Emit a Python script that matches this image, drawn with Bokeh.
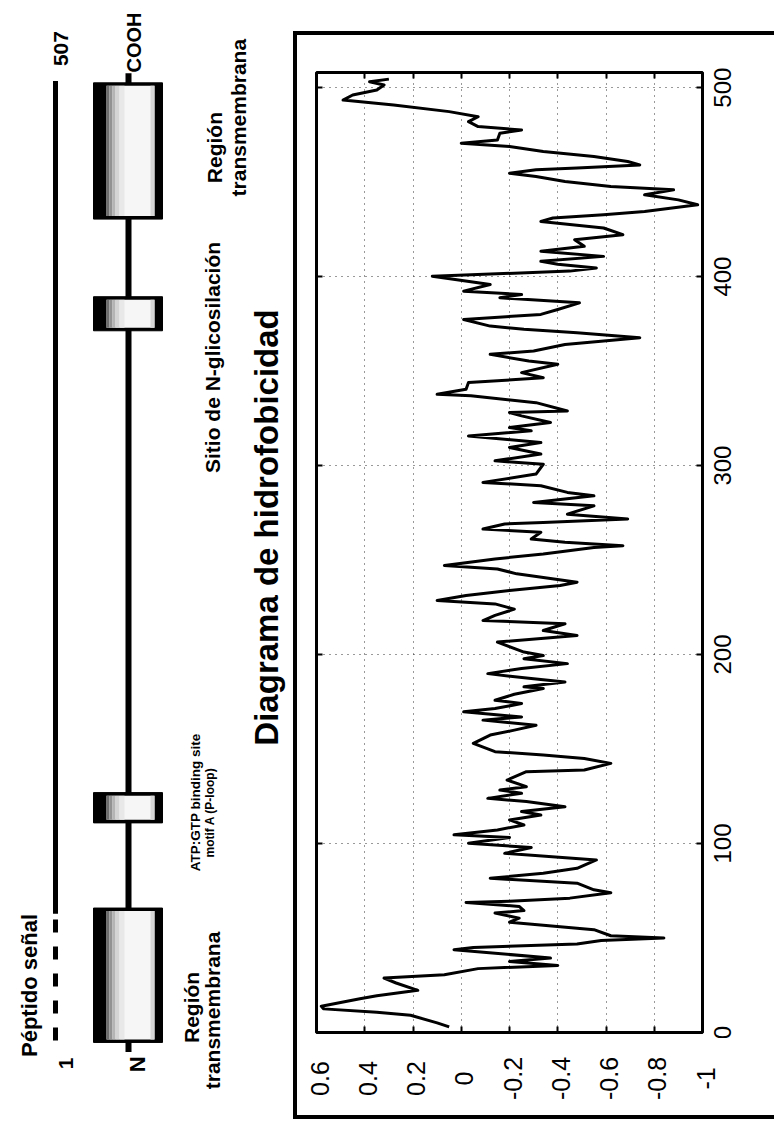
from math import pi
from bokeh.plotting import figure
from bokeh.models import Range1d, LinearAxis, FixedTicker, Label, Grid, Div, Spacer
from bokeh.layouts import row, column
from bokeh.embed import file_html
from bokeh.resources import INLINE
from bokeh.core.properties import value

# ---------------- data ----------------
residue = [3, 5.1, 9.1, 10.7, 12.5, 13.9, 17.9, 19.5, 22.3, 26.2, 28.8, 30.6, 33.8, 35.5, 37.6, 39.4,
           43.8, 45.0, 46.8, 48.7, 50.0, 51.2, 54.4, 58.4, 60.5, 63.2, 64.5, 66.7, 68.8, 69.5, 71.1,
           74.0, 75.5, 79.0, 81.6, 84.3, 86.9, 91.3, 94.8, 97.9, 100.2, 103.2, 104.6, 107.2, 109.8,
           112.5, 115.1, 116.9, 119.5, 122.2, 123.9, 126.6, 128.3, 130.1, 133.6, 138.0, 138.9, 142.4,
           145.0, 146.8, 148.6, 153.0, 157.4, 160.0, 162.6, 165.3, 167.0, 169.7, 171.4, 174.1, 175.8,
           179.0, 182.0, 182.9, 185.5, 187.3, 189.9, 192.6, 195.2, 197.8, 199.5, 201.3, 206.6, 210.1,
           212.7, 216.3, 218.0, 220.7, 224.0, 226.8, 228.6, 231.2, 233.9, 236.5, 238.3, 242.7, 245.3,
           247.1, 250.6, 253.2, 256.7, 257.6, 259.4, 261.1, 264.7, 266.4, 269.1, 269.9, 271.7, 274.3,
           278.7, 280.5, 284.0, 285.8, 289.3, 291.1, 295.5, 300.7, 302.5, 306.1, 309.6, 312.2, 315.7,
           318.4, 320.1, 322.8, 326.3, 328.1, 328.9, 333.3, 336.9, 337.7, 340.4, 343.9, 346.5, 349.2,
           353.6, 355.3, 358.9, 360.6, 364.1, 367.7, 370.3, 372.1, 373.8, 377.3, 380.0, 382.6, 386.1,
           388.8, 390.5, 392.3, 395.8, 400.2, 402.9, 404.6, 406.5, 408.1, 410.7, 413.4, 416.0, 419.5,
           422.2, 425.7, 429.2, 431.0, 432.7, 434.5, 438.0, 440.6, 443.3, 445.9, 447.7, 450.3, 453.0,
           454.7, 456.5, 457.4, 459.1, 460.9, 463.5, 466.2, 468.8, 470.6, 472.3, 475.8, 477.6, 479.4,
           482.0, 484.6, 487.3, 490.8, 493.4, 496.1, 498.7, 501.4, 503.1, 504.5]
hydro = [0.05, 0.10, 0.21, 0.35, 0.57, 0.58, 0.42, 0.35, 0.18, 0.27, 0.32, 0.07, -0.07, -0.40, -0.20, -0.37,
         0.03, -0.05, -0.48, -0.58, -0.84, -0.62, -0.55, -0.20, -0.24, -0.14, -0.26, -0.24, -0.02, -0.20, -0.45,
         -0.62, -0.55, -0.48, -0.12, -0.34, -0.48, -0.56, -0.18, -0.29, -0.03, -0.20, 0.03, -0.15, -0.26,
         -0.20, -0.33, -0.25, -0.43, -0.27, -0.11, -0.25, -0.16, -0.27, -0.19, -0.27, -0.51, -0.62,
         -0.51, -0.34, -0.14, -0.05, -0.12, -0.22, -0.31, -0.09, -0.25, -0.01, -0.14, -0.25, -0.14,
         -0.22, -0.34, -0.26, -0.43, -0.29, -0.11, -0.25, -0.44, -0.26, -0.34, -0.26, -0.15, -0.48,
         -0.34, -0.43, -0.09, -0.14, -0.22, -0.14, 0.10, -0.02, -0.20, -0.41, -0.48, -0.23, -0.15,
         0.07, -0.14, -0.34, -0.55, -0.67, -0.43, -0.29, -0.33, -0.09, -0.18, -0.34, -0.69, -0.44,
         -0.55, -0.30, -0.55, -0.44, -0.33, -0.09, -0.31, -0.34, -0.14, -0.33, -0.20, -0.33, -0.03,
         -0.29, -0.20, -0.37, -0.25, -0.20, -0.44, -0.31, -0.04, 0.10, -0.02, -0.03, -0.34, -0.25,
         -0.40, -0.28, -0.12, -0.30, -0.43, -0.74, -0.48, -0.26, -0.12, -0.01, -0.33, -0.40, -0.49,
         -0.16, -0.25, -0.01, -0.12, 0.12, -0.45, -0.56, -0.40, -0.33, -0.59, -0.33, -0.51, -0.47,
         -0.67, -0.59, -0.33, -0.38, -0.59, -0.76, -0.98, -0.90, -0.76, -0.88, -0.62, -0.43, -0.31,
         -0.20, -0.31, -0.48, -0.74, -0.69, -0.55, -0.34, -0.20, 0.00, -0.15, -0.16, -0.25, -0.07,
         -0.03, -0.07, 0.05, 0.28, 0.49, 0.45, 0.35, 0.32, 0.38, 0.30]

hydro_ticks = [0.6, 0.4, 0.2, 0, -0.2, -0.4, -0.6, -0.8, -1]
hydro_labels = ["0.6", "0.4", "0.2", "0", "-0.2", "-0.4", "-0.6", "-0.8", "-1"]
residue_ticks = [0, 100, 200, 300, 400, 500]
residue_labels = ["0", "100", "200", "300", "400", "500"]

protein_length = 507
signal_peptide = [1, 68]
domain_start = [0, 116, 376, 435]
domain_end = [71, 132, 394, 507]

FONT = "Liberation Sans"
H = 1122
LW = 293

COMMON = dict(toolbar_location=None, output_backend="svg", x_axis_type=None, y_axis_type=None)

# ---------------- left: domain diagram ----------------
left = figure(width=LW, height=H, x_range=Range1d(0, LW), y_range=Range1d(-42.3, 550.5),
              min_border=0, outline_line_color=None, **COMMON)
left.frame_align = False

left.line([55, 55], [signal_peptide[1], protein_length + 1], line_width=5, color="black")
left.line([55, 55], [signal_peptide[0], signal_peptide[1]], line_width=5, color="black", line_dash="13 14")
left.line([128, 128], [domain_start[0] - 5, protein_length + 5], line_width=6, color="black")
left.quad(left=93, right=162, bottom=domain_start, top=domain_end, fill_color="black", line_color="black")
bi = [s + 1.6 for s in domain_start]
ti = [e - 1.6 for e in domain_end]
left.quad(left=106, right=154, bottom=bi, top=ti, fill_color="#f6f6f6", line_color=None)
# soft shading inside the boxes (dark near the left band, fading to white)
for x0, x1, c in ((106, 109, "#6e6e6e"), (109, 112, "#929292"), (112, 115, "#b4b4b4"),
                  (115, 119, "#d4d4d4"), (119, 124, "#e8e8e8"), (150, 154, "#d6d6d6")):
    left.quad(left=x0, right=x1, bottom=bi, top=ti, fill_color=c, line_color=None)


def ltxt(fig, x, y, text, size, bold=True):
    fig.add_layout(Label(x=x, y=y, text=text, angle=pi / 2, text_align="center",
                         text_baseline="alphabetic", text_font=FONT, text_font_size=f"{size}px",
                         text_font_style="bold" if bold else "normal", text_color="black"))


ltxt(left, 29, 30.1, "Péptido señal", 22)
ltxt(left, 65, -11.1, "1", 21)
ltxt(left, 60, 525.1, "507", 21)
ltxt(left, 137, -11.6, "N", 22)
ltxt(left, 133, 528.3, "COOH", 20)
ltxt(left, 191, 18.5, "Región", 21)
ltxt(left, 212, 16.9, "transmembrana", 21)
ltxt(left, 195, 126.8, "ATP:GTP binding site", 13.5)
ltxt(left, 209, 121.5, "motif A (P-loop)", 12)
ltxt(left, 212, 361.9, "Sitio de N-glicosilación", 21)
ltxt(left, 214, 472.8, "Región", 21)
ltxt(left, 238, 488.6, "transmembrana", 21)
ltxt(left, 266, 272.1, "Diagrama de hidrofobicidad", 33)

# ---------------- main hydrophobicity plot ----------------
main = figure(width=411, height=1003, x_range=Range1d(0.6, -1), y_range=Range1d(0, 508),
              min_border_left=19, min_border_right=6, min_border_top=37, min_border_bottom=6,
              outline_line_color="black", outline_line_width=3, **COMMON)
main.frame_align = False

for g in (Grid(dimension=0, ticker=FixedTicker(ticks=hydro_ticks[1:-1])),
          Grid(dimension=1, ticker=FixedTicker(ticks=residue_ticks[1:]))):
    g.grid_line_color = "#333333"
    g.grid_line_dash = "1 5"
    g.grid_line_width = 1
    main.add_layout(g, "center")

for side, ticks in (("below", hydro_ticks), ("above", hydro_ticks),
                    ("left", residue_ticks), ("right", residue_ticks)):
    ax = LinearAxis(ticker=FixedTicker(ticks=ticks), major_label_text_font_size="1px",
                    major_label_text_color=None, axis_line_color=None, major_tick_in=6,
                    major_tick_out=0, major_tick_line_width=2, minor_tick_line_color=None,
                    major_label_standoff=0)
    main.add_layout(ax, side)

main.line(x=hydro, y=residue, line_width=3, color="black", line_join="round")

# residue tick labels (right of the plot)
ylab = figure(width=66, height=1003, x_range=Range1d(0, 66), y_range=Range1d(-3.175, 527.58),
              min_border=0, outline_line_color=None, **COMMON)
ylab.frame_align = False
ylab.grid.visible = False
ylab.text(x=14, y=residue_ticks, text=residue_labels, angle=pi / 2, text_align="center",
          text_baseline="middle", text_font=value(FONT), text_font_size="24px", text_color="black")

# hydrophobicity tick labels (below the plot)
xlab = figure(width=477, height=77, x_range=Range1d(0.6788, -1.2984), y_range=Range1d(0, 77),
              min_border=0, outline_line_color=None, **COMMON)
xlab.frame_align = False
xlab.grid.visible = False
xlab.text(x=hydro_ticks, y=37, text=hydro_labels, angle=pi / 2, text_align="center",
          text_baseline="middle", x_offset=3, text_font=value(FONT), text_font_size="25px",
          text_color="black")

# outer frame lines
BLACK = {"background-color": "black"}
vline = Div(width=4, height=1088, margin=0, styles=BLACK)
topline = Div(width=477, height=4, margin=0, styles=BLACK)
botline = Div(width=477, height=4, margin=0, styles=BLACK)

layout = row(left, column(Spacer(width=481, height=31),
                          row(vline, column(topline, row(main, ylab), xlab, botline))))
open("out.html", "w").write(file_html(layout, INLINE))
